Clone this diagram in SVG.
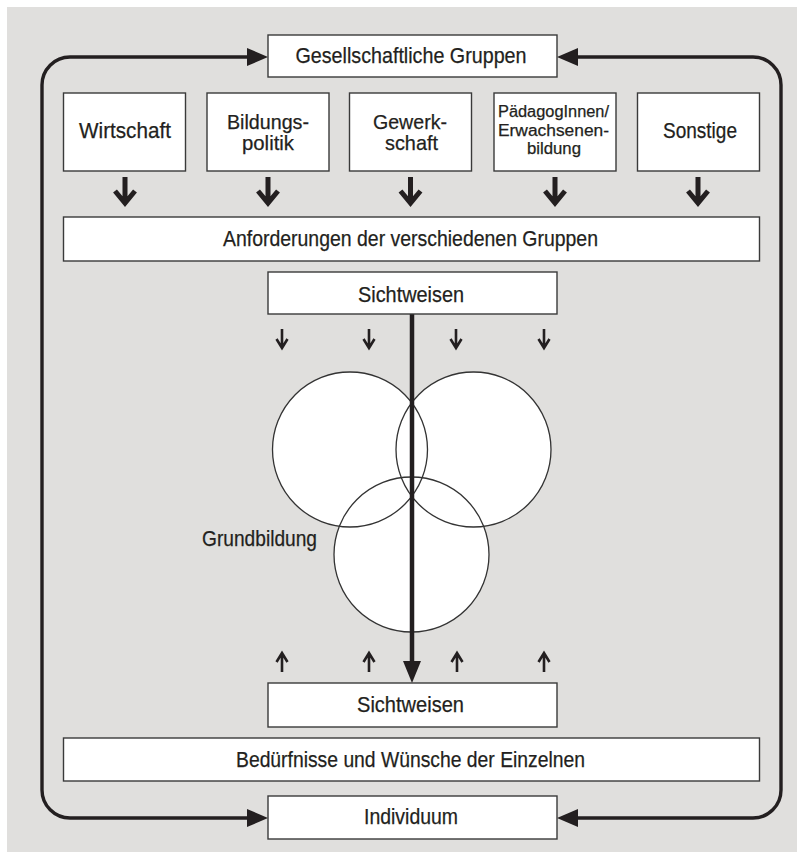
<svg xmlns="http://www.w3.org/2000/svg" width="805" height="861" viewBox="0 0 805 861">
<style>
.box{fill:#fff;stroke:#3a3a3a;stroke-width:1.4}
.lbl{font-family:"Liberation Sans",Arial,sans-serif;font-size:22px;fill:#231f20;stroke:#231f20;stroke-width:0.25;text-anchor:middle}
.two{font-size:21px}
.sm{font-size:16px}
.loop{fill:none;stroke:#231f20;stroke-width:3.4}
.head{fill:#231f20}
.tarr{fill:none;stroke:#231f20;stroke-width:5}
.narr{fill:none;stroke:#231f20;stroke-width:2.6}
.circ{fill:none;stroke:#333;stroke-width:1.3}
</style>
<rect x="7" y="7" width="790" height="845" fill="#e0dfdd"/>

<g id="connectors">
  <path class="loop" d="M250 57 H70 A28 28 0 0 0 42 85 V790 A28 28 0 0 0 70 818 H250"/>
  <path class="loop" d="M575 57 H753 A28 28 0 0 1 781 85 V790 A28 28 0 0 1 753 818 H575"/>
  <polygon class="head" points="268,57 247,48 247,66"/>
  <polygon class="head" points="557,57 578,48 578,66"/>
  <polygon class="head" points="268,818 247,809 247,827"/>
  <polygon class="head" points="557,818 578,809 578,827"/>
  <g id="group-arrows">
    <path class="tarr" d="M125 177 V202 M115 191 L125 203 L135 191"/>
    <path class="tarr" d="M268 177 V202 M258 191 L268 203 L278 191"/>
    <path class="tarr" d="M410.5 177 V202 M400.5 191 L410.5 203 L420.5 191"/>
    <path class="tarr" d="M555 177 V202 M545 191 L555 203 L565 191"/>
    <path class="tarr" d="M698 177 V202 M688 191 L698 203 L708 191"/>
  </g>
  <g id="small-down">
    <path class="narr" d="M282 329 V346 M276.5 339 L282 348 L287.5 339"/>
    <path class="narr" d="M369 329 V346 M363.5 339 L369 348 L374.5 339"/>
    <path class="narr" d="M456 329 V346 M450.5 339 L456 348 L461.5 339"/>
    <path class="narr" d="M544 329 V346 M538.5 339 L544 348 L549.5 339"/>
  </g>
  <g id="small-up">
    <path class="narr" d="M282 672 V655 M276.5 662 L282 653 L287.5 662"/>
    <path class="narr" d="M369 672 V655 M363.5 662 L369 653 L374.5 662"/>
    <path class="narr" d="M457 672 V655 M451.5 662 L457 653 L462.5 662"/>
    <path class="narr" d="M544 672 V655 M538.5 662 L544 653 L549.5 662"/>
  </g>
</g>

<g id="venn">
  <circle cx="350" cy="449.5" r="77.5" fill="#fff"/>
  <circle cx="473.5" cy="449.5" r="77.5" fill="#fff"/>
  <circle cx="411.5" cy="554.5" r="77.5" fill="#fff"/>
  <circle class="circ" cx="350" cy="449.5" r="77.5"/>
  <circle class="circ" cx="473.5" cy="449.5" r="77.5"/>
  <circle class="circ" cx="411.5" cy="554.5" r="77.5"/>
  <text class="lbl" x="202" y="546" style="text-anchor:start" textLength="115" lengthAdjust="spacingAndGlyphs">Grundbildung</text>
</g>

<g id="main-arrow">
  <line x1="412" y1="314" x2="412" y2="664" stroke="#231f20" stroke-width="4.5"/>
  <polygon class="head" points="403,661 421,661 412,683"/>
</g>

<g id="gesellschaftliche-gruppen">
  <rect class="box" x="268" y="35" width="289" height="42"/>
  <text class="lbl" x="411" y="63" textLength="231" lengthAdjust="spacingAndGlyphs">Gesellschaftliche Gruppen</text>
</g>
<g id="wirtschaft">
  <rect class="box" x="63.5" y="93" width="122" height="78"/>
  <text class="lbl" x="125" y="138" textLength="92" lengthAdjust="spacingAndGlyphs">Wirtschaft</text>
</g>
<g id="bildungspolitik">
  <rect class="box" x="207" y="93" width="122" height="78"/>
  <text class="lbl two" x="268" y="129" textLength="82" lengthAdjust="spacingAndGlyphs">Bildungs-</text>
  <text class="lbl two" x="268" y="150" textLength="52" lengthAdjust="spacingAndGlyphs">politik</text>
</g>
<g id="gewerkschaft">
  <rect class="box" x="349.5" y="93" width="122" height="78"/>
  <text class="lbl two" x="410" y="129" textLength="74" lengthAdjust="spacingAndGlyphs">Gewerk-</text>
  <text class="lbl two" x="411.5" y="150" textLength="53" lengthAdjust="spacingAndGlyphs">schaft</text>
</g>
<g id="paedagogen">
  <rect class="box" x="494" y="93" width="122" height="78"/>
  <text class="lbl sm" x="553.5" y="117" textLength="111" lengthAdjust="spacingAndGlyphs">PädagogInnen/</text>
  <text class="lbl sm" x="553.5" y="136" textLength="111" lengthAdjust="spacingAndGlyphs">Erwachsenen-</text>
  <text class="lbl sm" x="554" y="154" textLength="54" lengthAdjust="spacingAndGlyphs">bildung</text>
</g>
<g id="sonstige">
  <rect class="box" x="637.5" y="93" width="122" height="78"/>
  <text class="lbl" x="700" y="138" textLength="74" lengthAdjust="spacingAndGlyphs">Sonstige</text>
</g>
<g id="anforderungen">
  <rect class="box" x="63.5" y="217" width="696" height="44"/>
  <text class="lbl" x="410.5" y="246" textLength="375" lengthAdjust="spacingAndGlyphs">Anforderungen der verschiedenen Gruppen</text>
</g>
<g id="sichtweisen-oben">
  <rect class="box" x="268" y="272" width="289" height="42"/>
  <text class="lbl" x="411" y="302" textLength="106" lengthAdjust="spacingAndGlyphs">Sichtweisen</text>
</g>
<g id="sichtweisen-unten">
  <rect class="box" x="268" y="683" width="289" height="44"/>
  <text class="lbl" x="410.5" y="712" textLength="107" lengthAdjust="spacingAndGlyphs">Sichtweisen</text>
</g>
<g id="beduerfnisse">
  <rect class="box" x="63.5" y="738" width="696" height="43"/>
  <text class="lbl" x="410.5" y="767" textLength="349" lengthAdjust="spacingAndGlyphs">Bedürfnisse und Wünsche der Einzelnen</text>
</g>
<g id="individuum">
  <rect class="box" x="268" y="796" width="289" height="43"/>
  <text class="lbl" x="411" y="824" textLength="94" lengthAdjust="spacingAndGlyphs">Individuum</text>
</g>
</svg>
